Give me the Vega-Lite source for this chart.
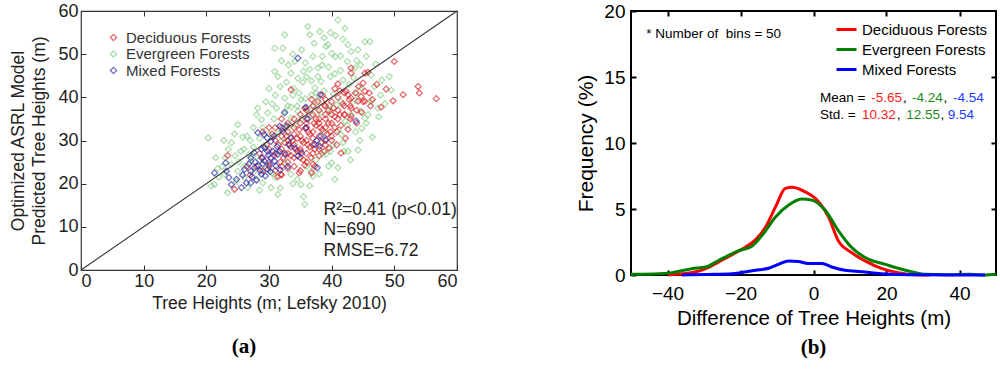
{
  "$schema": "https://vega.github.io/schema/vega-lite/v6.json",
  "padding": {"left": 9, "top": 1, "right": 1, "bottom": 4},
  "bounds": "flush",
  "spacing": 174,
  "background": "white",
  "config": {
    "font": "Liberation Sans",
    "axis": {"grid": false, "domain": false, "labelFont": "Liberation Sans", "titleFont": "Liberation Sans", "titleFontWeight": "normal"},
    "legend": {"labelFont": "Liberation Sans"}
  },
  "resolve": {"scale": {"color": "independent", "stroke": "independent"}, "legend": {"color": "independent", "stroke": "independent"}},
  "datasets": {
    "scatter": [
      {"x": 36.2, "y": 56.4, "type": "Evergreen Forests"}, {"x": 36.5, "y": 54.5, "type": "Evergreen Forests"}, {"x": 38.1, "y": 55.2, "type": "Evergreen Forests"}, {"x": 41.0, "y": 57.9, "type": "Evergreen Forests"}, {"x": 42.1, "y": 56.0, "type": "Evergreen Forests"}, {"x": 32.5, "y": 54.5, "type": "Evergreen Forests"}, {"x": 30.9, "y": 51.4, "type": "Evergreen Forests"}, {"x": 32.2, "y": 51.4, "type": "Evergreen Forests"}, {"x": 39.4, "y": 52.2, "type": "Evergreen Forests"}, {"x": 40.0, "y": 50.2, "type": "Evergreen Forests"}, {"x": 40.6, "y": 49.4, "type": "Evergreen Forests"}, {"x": 41.4, "y": 49.6, "type": "Evergreen Forests"}, {"x": 42.6, "y": 52.2, "type": "Evergreen Forests"}, {"x": 43.1, "y": 50.6, "type": "Evergreen Forests"}, {"x": 44.2, "y": 51.0, "type": "Evergreen Forests"}, {"x": 45.3, "y": 52.9, "type": "Evergreen Forests"}, {"x": 46.1, "y": 52.9, "type": "Evergreen Forests"}, {"x": 34.1, "y": 48.3, "type": "Evergreen Forests"}, {"x": 35.8, "y": 48.0, "type": "Evergreen Forests"}, {"x": 37.8, "y": 46.8, "type": "Evergreen Forests"}, {"x": 38.5, "y": 49.5, "type": "Evergreen Forests"}, {"x": 39.1, "y": 51.8, "type": "Evergreen Forests"}, {"x": 43.7, "y": 46.8, "type": "Evergreen Forests"}, {"x": 42.5, "y": 48.3, "type": "Evergreen Forests"}, {"x": 30.9, "y": 46.0, "type": "Evergreen Forests"}, {"x": 31.4, "y": 44.8, "type": "Evergreen Forests"}, {"x": 33.5, "y": 45.6, "type": "Evergreen Forests"}, {"x": 34.6, "y": 44.4, "type": "Evergreen Forests"}, {"x": 36.0, "y": 44.7, "type": "Evergreen Forests"}, {"x": 35.4, "y": 43.5, "type": "Evergreen Forests"}, {"x": 36.8, "y": 43.8, "type": "Evergreen Forests"}, {"x": 37.3, "y": 42.2, "type": "Evergreen Forests"}, {"x": 38.3, "y": 43.7, "type": "Evergreen Forests"}, {"x": 39.8, "y": 44.8, "type": "Evergreen Forests"}, {"x": 41.4, "y": 46.2, "type": "Evergreen Forests"}, {"x": 44.6, "y": 47.5, "type": "Evergreen Forests"}, {"x": 46.3, "y": 45.2, "type": "Evergreen Forests"}, {"x": 49.2, "y": 44.8, "type": "Evergreen Forests"}, {"x": 44.7, "y": 42.2, "type": "Evergreen Forests"}, {"x": 49.5, "y": 41.7, "type": "Evergreen Forests"}, {"x": 32.5, "y": 39.8, "type": "Evergreen Forests"}, {"x": 33.8, "y": 40.5, "type": "Evergreen Forests"}, {"x": 35.1, "y": 39.5, "type": "Evergreen Forests"}, {"x": 35.8, "y": 39.7, "type": "Evergreen Forests"}, {"x": 36.8, "y": 40.6, "type": "Evergreen Forests"}, {"x": 37.5, "y": 41.0, "type": "Evergreen Forests"}, {"x": 38.8, "y": 41.5, "type": "Evergreen Forests"}, {"x": 40.3, "y": 40.8, "type": "Evergreen Forests"}, {"x": 46.3, "y": 39.1, "type": "Evergreen Forests"}, {"x": 47.4, "y": 37.5, "type": "Evergreen Forests"}, {"x": 45.3, "y": 35.2, "type": "Evergreen Forests"}, {"x": 45.8, "y": 36.0, "type": "Evergreen Forests"}, {"x": 43.1, "y": 36.0, "type": "Evergreen Forests"}, {"x": 48.5, "y": 38.5, "type": "Evergreen Forests"},
      {"x": 25.0, "y": 33.7, "type": "Evergreen Forests"}, {"x": 25.8, "y": 30.8, "type": "Evergreen Forests"}, {"x": 28.2, "y": 37.5, "type": "Evergreen Forests"}, {"x": 28.8, "y": 34.8, "type": "Evergreen Forests"}, {"x": 29.8, "y": 36.4, "type": "Evergreen Forests"}, {"x": 30.5, "y": 38.5, "type": "Evergreen Forests"}, {"x": 31.2, "y": 37.5, "type": "Evergreen Forests"}, {"x": 32.5, "y": 36.8, "type": "Evergreen Forests"}, {"x": 33.5, "y": 35.2, "type": "Evergreen Forests"}, {"x": 32.5, "y": 32.9, "type": "Evergreen Forests"}, {"x": 31.9, "y": 29.8, "type": "Evergreen Forests"}, {"x": 34.6, "y": 36.8, "type": "Evergreen Forests"}, {"x": 36.0, "y": 37.5, "type": "Evergreen Forests"}, {"x": 37.1, "y": 38.0, "type": "Evergreen Forests"}, {"x": 39.9, "y": 36.8, "type": "Evergreen Forests"}, {"x": 41.0, "y": 32.3, "type": "Evergreen Forests"}, {"x": 41.5, "y": 31.4, "type": "Evergreen Forests"}, {"x": 42.5, "y": 33.5, "type": "Evergreen Forests"}, {"x": 43.8, "y": 32.0, "type": "Evergreen Forests"}, {"x": 44.5, "y": 30.0, "type": "Evergreen Forests"}, {"x": 45.5, "y": 34.0, "type": "Evergreen Forests"}, {"x": 26.5, "y": 31.0, "type": "Evergreen Forests"}, {"x": 27.5, "y": 28.5, "type": "Evergreen Forests"}, {"x": 28.5, "y": 30.5, "type": "Evergreen Forests"}, {"x": 30.0, "y": 31.5, "type": "Evergreen Forests"}, {"x": 27.0, "y": 30.0, "type": "Evergreen Forests"}, {"x": 24.0, "y": 29.5, "type": "Evergreen Forests"}, {"x": 23.5, "y": 28.0, "type": "Evergreen Forests"}, {"x": 33.0, "y": 31.0, "type": "Evergreen Forests"}, {"x": 34.2, "y": 33.5, "type": "Evergreen Forests"}, {"x": 38.8, "y": 32.0, "type": "Evergreen Forests"}, {"x": 40.2, "y": 29.0, "type": "Evergreen Forests"}, {"x": 41.8, "y": 29.5, "type": "Evergreen Forests"},
      {"x": 20.3, "y": 30.6, "type": "Evergreen Forests"}, {"x": 20.8, "y": 19.5, "type": "Evergreen Forests"}, {"x": 21.3, "y": 19.8, "type": "Evergreen Forests"}, {"x": 22.0, "y": 21.5, "type": "Evergreen Forests"}, {"x": 22.9, "y": 22.2, "type": "Evergreen Forests"}, {"x": 23.4, "y": 17.9, "type": "Evergreen Forests"}, {"x": 24.0, "y": 24.5, "type": "Evergreen Forests"}, {"x": 25.0, "y": 22.9, "type": "Evergreen Forests"}, {"x": 26.1, "y": 21.4, "type": "Evergreen Forests"}, {"x": 26.6, "y": 19.1, "type": "Evergreen Forests"}, {"x": 27.1, "y": 25.2, "type": "Evergreen Forests"}, {"x": 24.6, "y": 26.5, "type": "Evergreen Forests"}, {"x": 25.5, "y": 27.5, "type": "Evergreen Forests"}, {"x": 22.5, "y": 24.0, "type": "Evergreen Forests"}, {"x": 21.8, "y": 23.5, "type": "Evergreen Forests"}, {"x": 23.0, "y": 26.0, "type": "Evergreen Forests"}, {"x": 28.0, "y": 21.0, "type": "Evergreen Forests"}, {"x": 29.0, "y": 20.2, "type": "Evergreen Forests"}, {"x": 30.3, "y": 19.1, "type": "Evergreen Forests"}, {"x": 31.4, "y": 17.5, "type": "Evergreen Forests"}, {"x": 33.5, "y": 22.2, "type": "Evergreen Forests"}, {"x": 34.5, "y": 21.0, "type": "Evergreen Forests"}, {"x": 35.1, "y": 19.8, "type": "Evergreen Forests"}, {"x": 35.7, "y": 15.2, "type": "Evergreen Forests"}, {"x": 36.7, "y": 22.9, "type": "Evergreen Forests"}, {"x": 37.5, "y": 25.5, "type": "Evergreen Forests"}, {"x": 38.5, "y": 26.8, "type": "Evergreen Forests"}, {"x": 39.1, "y": 26.8, "type": "Evergreen Forests"}, {"x": 40.0, "y": 24.8, "type": "Evergreen Forests"}, {"x": 41.0, "y": 23.7, "type": "Evergreen Forests"}, {"x": 42.0, "y": 27.5, "type": "Evergreen Forests"}, {"x": 42.6, "y": 27.5, "type": "Evergreen Forests"}, {"x": 32.5, "y": 24.8, "type": "Evergreen Forests"}, {"x": 31.0, "y": 21.5, "type": "Evergreen Forests"}, {"x": 29.5, "y": 23.5, "type": "Evergreen Forests"}, {"x": 36.0, "y": 24.0, "type": "Evergreen Forests"}, {"x": 37.0, "y": 21.7, "type": "Evergreen Forests"}, {"x": 39.8, "y": 27.5, "type": "Evergreen Forests"}, {"x": 24.8, "y": 20.5, "type": "Evergreen Forests"}, {"x": 26.0, "y": 24.0, "type": "Evergreen Forests"}, {"x": 27.8, "y": 23.0, "type": "Evergreen Forests"}, {"x": 28.5, "y": 25.5, "type": "Evergreen Forests"},
      {"x": 27.5, "y": 33, "type": "Evergreen Forests"}, {"x": 28, "y": 36, "type": "Evergreen Forests"}, {"x": 29.5, "y": 39, "type": "Evergreen Forests"}, {"x": 30, "y": 42, "type": "Evergreen Forests"}, {"x": 31, "y": 40.5, "type": "Evergreen Forests"}, {"x": 31.8, "y": 42.5, "type": "Evergreen Forests"}, {"x": 32.8, "y": 43.5, "type": "Evergreen Forests"}, {"x": 33, "y": 38, "type": "Evergreen Forests"}, {"x": 34, "y": 42, "type": "Evergreen Forests"}, {"x": 34.8, "y": 41, "type": "Evergreen Forests"}, {"x": 35.5, "y": 46, "type": "Evergreen Forests"}, {"x": 36.5, "y": 46.5, "type": "Evergreen Forests"}, {"x": 37.8, "y": 44.8, "type": "Evergreen Forests"}, {"x": 38.5, "y": 47.5, "type": "Evergreen Forests"}, {"x": 39.5, "y": 47, "type": "Evergreen Forests"}, {"x": 40.5, "y": 45.5, "type": "Evergreen Forests"}, {"x": 41.8, "y": 44, "type": "Evergreen Forests"}, {"x": 42.8, "y": 43, "type": "Evergreen Forests"}, {"x": 43.5, "y": 44.5, "type": "Evergreen Forests"}, {"x": 44, "y": 41, "type": "Evergreen Forests"}, {"x": 46.8, "y": 42.5, "type": "Evergreen Forests"}, {"x": 47.8, "y": 40.5, "type": "Evergreen Forests"}, {"x": 40.8, "y": 38.2, "type": "Evergreen Forests"}, {"x": 41.5, "y": 39, "type": "Evergreen Forests"}, {"x": 37.8, "y": 39.5, "type": "Evergreen Forests"}, {"x": 34.5, "y": 38, "type": "Evergreen Forests"}, {"x": 33.5, "y": 37.8, "type": "Evergreen Forests"}, {"x": 30.8, "y": 35, "type": "Evergreen Forests"}, {"x": 29, "y": 33, "type": "Evergreen Forests"}, {"x": 26, "y": 28, "type": "Evergreen Forests"}, {"x": 24.5, "y": 31.5, "type": "Evergreen Forests"}, {"x": 22.8, "y": 30, "type": "Evergreen Forests"}, {"x": 21.5, "y": 26, "type": "Evergreen Forests"}, {"x": 26.8, "y": 26.8, "type": "Evergreen Forests"}, {"x": 25.2, "y": 25, "type": "Evergreen Forests"}, {"x": 30.5, "y": 22.5, "type": "Evergreen Forests"}, {"x": 33.8, "y": 20, "type": "Evergreen Forests"}, {"x": 38, "y": 22.2, "type": "Evergreen Forests"}, {"x": 40.5, "y": 21, "type": "Evergreen Forests"}, {"x": 43, "y": 25.5, "type": "Evergreen Forests"}, {"x": 44.2, "y": 27.8, "type": "Evergreen Forests"}, {"x": 46.5, "y": 30.8, "type": "Evergreen Forests"}, {"x": 47.5, "y": 35.5, "type": "Evergreen Forests"}, {"x": 44.8, "y": 32.8, "type": "Evergreen Forests"}, {"x": 39.5, "y": 24, "type": "Evergreen Forests"}, {"x": 36.5, "y": 19.5, "type": "Evergreen Forests"}, {"x": 31.8, "y": 19, "type": "Evergreen Forests"}, {"x": 28.5, "y": 18.5, "type": "Evergreen Forests"}, {"x": 35.5, "y": 17, "type": "Evergreen Forests"}, {"x": 27.5, "y": 26.5, "type": "Evergreen Forests"}, {"x": 29.2, "y": 28.8, "type": "Evergreen Forests"}, {"x": 31.5, "y": 31.8, "type": "Evergreen Forests"}, {"x": 33.3, "y": 33.5, "type": "Evergreen Forests"}, {"x": 35.2, "y": 35, "type": "Evergreen Forests"}, {"x": 36.8, "y": 35.8, "type": "Evergreen Forests"}, {"x": 38.2, "y": 36.5, "type": "Evergreen Forests"}, {"x": 39.6, "y": 38, "type": "Evergreen Forests"}, {"x": 42.2, "y": 34.5, "type": "Evergreen Forests"}, {"x": 43.8, "y": 39.3, "type": "Evergreen Forests"}, {"x": 44.6, "y": 36.8, "type": "Evergreen Forests"}, {"x": 37, "y": 49.5, "type": "Evergreen Forests"}, {"x": 39.8, "y": 55, "type": "Evergreen Forests"}, {"x": 35.2, "y": 51, "type": "Evergreen Forests"}, {"x": 33.8, "y": 50, "type": "Evergreen Forests"}, {"x": 38.8, "y": 53.8, "type": "Evergreen Forests"}, {"x": 41.8, "y": 53.5, "type": "Evergreen Forests"}, {"x": 40.6, "y": 54.3, "type": "Evergreen Forests"}, {"x": 44, "y": 48.5, "type": "Evergreen Forests"}, {"x": 45.5, "y": 49.5, "type": "Evergreen Forests"}, {"x": 47, "y": 47.7, "type": "Evergreen Forests"}, {"x": 48, "y": 44, "type": "Evergreen Forests"}, {"x": 37.2, "y": 52.5, "type": "Evergreen Forests"}, {"x": 33.1, "y": 47.5, "type": "Evergreen Forests"}, {"x": 32, "y": 48.5, "type": "Evergreen Forests"},
      {"x": 50.0, "y": 48.3, "type": "Deciduous Forests"}, {"x": 53.8, "y": 42.5, "type": "Deciduous Forests"}, {"x": 54.0, "y": 41.0, "type": "Deciduous Forests"}, {"x": 56.7, "y": 39.7, "type": "Deciduous Forests"}, {"x": 51.4, "y": 40.6, "type": "Deciduous Forests"}, {"x": 49.8, "y": 39.2, "type": "Deciduous Forests"}, {"x": 48.7, "y": 41.9, "type": "Deciduous Forests"}, {"x": 47.9, "y": 37.7, "type": "Deciduous Forests"}, {"x": 45.3, "y": 45.6, "type": "Deciduous Forests"}, {"x": 45.8, "y": 45.8, "type": "Deciduous Forests"}, {"x": 43.1, "y": 46.8, "type": "Deciduous Forests"}, {"x": 43.1, "y": 45.6, "type": "Deciduous Forests"}, {"x": 41.0, "y": 43.1, "type": "Deciduous Forests"}, {"x": 40.5, "y": 42.0, "type": "Deciduous Forests"}, {"x": 42.3, "y": 41.4, "type": "Deciduous Forests"}, {"x": 42.6, "y": 40.6, "type": "Deciduous Forests"}, {"x": 45.0, "y": 43.3, "type": "Deciduous Forests"}, {"x": 45.3, "y": 41.4, "type": "Deciduous Forests"}, {"x": 44.7, "y": 40.2, "type": "Deciduous Forests"}, {"x": 45.3, "y": 39.1, "type": "Deciduous Forests"}, {"x": 44.2, "y": 39.1, "type": "Deciduous Forests"}, {"x": 43.1, "y": 39.8, "type": "Deciduous Forests"}, {"x": 43.1, "y": 37.5, "type": "Deciduous Forests"}, {"x": 42.1, "y": 36.0, "type": "Deciduous Forests"}, {"x": 43.1, "y": 35.6, "type": "Deciduous Forests"}, {"x": 42.6, "y": 32.6, "type": "Deciduous Forests"}, {"x": 41.5, "y": 27.1, "type": "Deciduous Forests"}, {"x": 33.5, "y": 41.8, "type": "Deciduous Forests"}, {"x": 23.4, "y": 26.5, "type": "Deciduous Forests"}, {"x": 24.5, "y": 18.7, "type": "Deciduous Forests"}, {"x": 37.3, "y": 24.0, "type": "Deciduous Forests"}, {"x": 35.7, "y": 24.3, "type": "Deciduous Forests"}, {"x": 31.4, "y": 21.6, "type": "Deciduous Forests"}, {"x": 31.9, "y": 22.2, "type": "Deciduous Forests"},
      {"x": 32, "y": 28, "type": "Deciduous Forests"}, {"x": 33, "y": 30, "type": "Deciduous Forests"}, {"x": 34, "y": 29, "type": "Deciduous Forests"}, {"x": 35, "y": 31, "type": "Deciduous Forests"}, {"x": 35, "y": 28, "type": "Deciduous Forests"}, {"x": 36, "y": 30, "type": "Deciduous Forests"}, {"x": 36, "y": 33, "type": "Deciduous Forests"}, {"x": 37, "y": 32, "type": "Deciduous Forests"}, {"x": 37, "y": 29, "type": "Deciduous Forests"}, {"x": 38, "y": 34, "type": "Deciduous Forests"}, {"x": 38, "y": 31, "type": "Deciduous Forests"}, {"x": 39, "y": 35, "type": "Deciduous Forests"}, {"x": 39, "y": 33, "type": "Deciduous Forests"}, {"x": 40, "y": 36, "type": "Deciduous Forests"}, {"x": 40, "y": 34, "type": "Deciduous Forests"}, {"x": 40, "y": 31, "type": "Deciduous Forests"}, {"x": 41, "y": 37, "type": "Deciduous Forests"}, {"x": 41, "y": 35, "type": "Deciduous Forests"}, {"x": 42, "y": 38, "type": "Deciduous Forests"}, {"x": 42, "y": 36, "type": "Deciduous Forests"}, {"x": 33, "y": 27, "type": "Deciduous Forests"}, {"x": 34, "y": 26, "type": "Deciduous Forests"}, {"x": 35, "y": 26, "type": "Deciduous Forests"}, {"x": 36, "y": 27, "type": "Deciduous Forests"}, {"x": 37, "y": 27, "type": "Deciduous Forests"}, {"x": 38, "y": 28, "type": "Deciduous Forests"}, {"x": 39, "y": 30, "type": "Deciduous Forests"}, {"x": 36, "y": 35, "type": "Deciduous Forests"}, {"x": 37, "y": 36, "type": "Deciduous Forests"}, {"x": 38, "y": 37, "type": "Deciduous Forests"}, {"x": 39, "y": 38, "type": "Deciduous Forests"}, {"x": 40, "y": 39, "type": "Deciduous Forests"}, {"x": 41, "y": 40, "type": "Deciduous Forests"}, {"x": 42, "y": 41, "type": "Deciduous Forests"}, {"x": 34, "y": 33, "type": "Deciduous Forests"}, {"x": 35, "y": 34, "type": "Deciduous Forests"}, {"x": 33, "y": 32, "type": "Deciduous Forests"}, {"x": 32, "y": 31, "type": "Deciduous Forests"}, {"x": 31, "y": 30, "type": "Deciduous Forests"}, {"x": 31, "y": 27, "type": "Deciduous Forests"}, {"x": 30, "y": 28, "type": "Deciduous Forests"}, {"x": 30, "y": 25, "type": "Deciduous Forests"}, {"x": 31, "y": 23, "type": "Deciduous Forests"}, {"x": 32, "y": 24, "type": "Deciduous Forests"}, {"x": 33, "y": 25, "type": "Deciduous Forests"}, {"x": 34, "y": 24, "type": "Deciduous Forests"}, {"x": 29, "y": 26, "type": "Deciduous Forests"}, {"x": 29, "y": 32, "type": "Deciduous Forests"}, {"x": 30, "y": 33, "type": "Deciduous Forests"}, {"x": 31, "y": 33, "type": "Deciduous Forests"}, {"x": 32, "y": 33, "type": "Deciduous Forests"}, {"x": 35, "y": 36, "type": "Deciduous Forests"}, {"x": 36, "y": 37, "type": "Deciduous Forests"}, {"x": 37, "y": 38, "type": "Deciduous Forests"}, {"x": 38, "y": 35, "type": "Deciduous Forests"}, {"x": 39, "y": 36, "type": "Deciduous Forests"}, {"x": 43, "y": 38, "type": "Deciduous Forests"}, {"x": 43, "y": 35, "type": "Deciduous Forests"}, {"x": 44, "y": 37, "type": "Deciduous Forests"}, {"x": 44, "y": 34, "type": "Deciduous Forests"}, {"x": 45, "y": 39, "type": "Deciduous Forests"}, {"x": 46, "y": 41, "type": "Deciduous Forests"}, {"x": 35, "y": 27.5, "type": "Deciduous Forests"}, {"x": 34.5, "y": 30.5, "type": "Deciduous Forests"}, {"x": 36.5, "y": 31.5, "type": "Deciduous Forests"}, {"x": 37.5, "y": 33.5, "type": "Deciduous Forests"}, {"x": 38.5, "y": 32.5, "type": "Deciduous Forests"}, {"x": 35.5, "y": 29.5, "type": "Deciduous Forests"}, {"x": 36.5, "y": 28.5, "type": "Deciduous Forests"}, {"x": 33.5, "y": 28.5, "type": "Deciduous Forests"}, {"x": 32.5, "y": 29.5, "type": "Deciduous Forests"}, {"x": 34, "y": 31.5, "type": "Deciduous Forests"}, {"x": 37, "y": 30.5, "type": "Deciduous Forests"}, {"x": 39.5, "y": 34, "type": "Deciduous Forests"}, {"x": 40.5, "y": 33, "type": "Deciduous Forests"}, {"x": 41.5, "y": 33.5, "type": "Deciduous Forests"}, {"x": 38, "y": 26.5, "type": "Deciduous Forests"}, {"x": 36, "y": 25, "type": "Deciduous Forests"}, {"x": 37, "y": 24.5, "type": "Deciduous Forests"}, {"x": 40, "y": 30, "type": "Deciduous Forests"}, {"x": 39, "y": 29, "type": "Deciduous Forests"}, {"x": 35, "y": 23, "type": "Deciduous Forests"}, {"x": 32, "y": 22, "type": "Deciduous Forests"}, {"x": 33, "y": 23.5, "type": "Deciduous Forests"}, {"x": 28, "y": 24, "type": "Deciduous Forests"}, {"x": 27, "y": 22, "type": "Deciduous Forests"}, {"x": 29, "y": 23, "type": "Deciduous Forests"}, {"x": 30, "y": 24, "type": "Deciduous Forests"}, {"x": 26.5, "y": 24, "type": "Deciduous Forests"}, {"x": 38.5, "y": 40.5, "type": "Deciduous Forests"}, {"x": 39, "y": 39.5, "type": "Deciduous Forests"}, {"x": 40.5, "y": 35.5, "type": "Deciduous Forests"}, {"x": 37.5, "y": 35, "type": "Deciduous Forests"}, {"x": 36, "y": 34, "type": "Deciduous Forests"}, {"x": 34, "y": 35, "type": "Deciduous Forests"}, {"x": 33, "y": 34, "type": "Deciduous Forests"}, {"x": 32, "y": 35, "type": "Deciduous Forests"},
      {"x": 31.5, "y": 29, "type": "Deciduous Forests"}, {"x": 32.5, "y": 27, "type": "Deciduous Forests"}, {"x": 33.5, "y": 26.5, "type": "Deciduous Forests"}, {"x": 34.5, "y": 27.5, "type": "Deciduous Forests"}, {"x": 35.5, "y": 25.5, "type": "Deciduous Forests"}, {"x": 36.2, "y": 29, "type": "Deciduous Forests"}, {"x": 37.3, "y": 28, "type": "Deciduous Forests"}, {"x": 38.3, "y": 29.5, "type": "Deciduous Forests"}, {"x": 38.8, "y": 27.5, "type": "Deciduous Forests"}, {"x": 39.8, "y": 32, "type": "Deciduous Forests"}, {"x": 40.8, "y": 32, "type": "Deciduous Forests"}, {"x": 41.3, "y": 36, "type": "Deciduous Forests"}, {"x": 40.3, "y": 37.5, "type": "Deciduous Forests"}, {"x": 39.5, "y": 37, "type": "Deciduous Forests"}, {"x": 38.8, "y": 38.2, "type": "Deciduous Forests"}, {"x": 37.8, "y": 39, "type": "Deciduous Forests"}, {"x": 36.8, "y": 39.5, "type": "Deciduous Forests"}, {"x": 35.7, "y": 37.5, "type": "Deciduous Forests"}, {"x": 34.8, "y": 32.5, "type": "Deciduous Forests"}, {"x": 33.8, "y": 30, "type": "Deciduous Forests"}, {"x": 32.8, "y": 31, "type": "Deciduous Forests"}, {"x": 32.3, "y": 26, "type": "Deciduous Forests"}, {"x": 34.3, "y": 28, "type": "Deciduous Forests"}, {"x": 35.3, "y": 30, "type": "Deciduous Forests"}, {"x": 36.3, "y": 32, "type": "Deciduous Forests"}, {"x": 37.2, "y": 34, "type": "Deciduous Forests"}, {"x": 38.2, "y": 33, "type": "Deciduous Forests"}, {"x": 39.3, "y": 31.5, "type": "Deciduous Forests"}, {"x": 41.8, "y": 38.5, "type": "Deciduous Forests"}, {"x": 42.8, "y": 39.5, "type": "Deciduous Forests"}, {"x": 43.8, "y": 41, "type": "Deciduous Forests"}, {"x": 44.3, "y": 42.5, "type": "Deciduous Forests"}, {"x": 46.5, "y": 39.5, "type": "Deciduous Forests"}, {"x": 47.2, "y": 43, "type": "Deciduous Forests"}, {"x": 41.3, "y": 41.5, "type": "Deciduous Forests"}, {"x": 30.5, "y": 31.5, "type": "Deciduous Forests"}, {"x": 30.8, "y": 26.5, "type": "Deciduous Forests"}, {"x": 31.8, "y": 25, "type": "Deciduous Forests"}, {"x": 29.6, "y": 29, "type": "Deciduous Forests"}, {"x": 28.5, "y": 27, "type": "Deciduous Forests"}, {"x": 34.8, "y": 22.5, "type": "Deciduous Forests"}, {"x": 36.8, "y": 22.5, "type": "Deciduous Forests"}, {"x": 39.6, "y": 28.2, "type": "Deciduous Forests"}, {"x": 40.8, "y": 29, "type": "Deciduous Forests"}, {"x": 42.2, "y": 30.5, "type": "Deciduous Forests"}, {"x": 44.8, "y": 36.5, "type": "Deciduous Forests"}, {"x": 46.2, "y": 38, "type": "Deciduous Forests"}, {"x": 35.8, "y": 32.8, "type": "Deciduous Forests"}, {"x": 36.7, "y": 26, "type": "Deciduous Forests"}, {"x": 33.2, "y": 29.2, "type": "Deciduous Forests"},
      {"x": 21.3, "y": 22.5, "type": "Mixed Forests"}, {"x": 23.1, "y": 24.8, "type": "Mixed Forests"}, {"x": 23.2, "y": 22.9, "type": "Mixed Forests"}, {"x": 23.6, "y": 21.4, "type": "Mixed Forests"}, {"x": 24.0, "y": 19.8, "type": "Mixed Forests"}, {"x": 25.6, "y": 19.1, "type": "Mixed Forests"}, {"x": 27.1, "y": 20.2, "type": "Mixed Forests"}, {"x": 27.1, "y": 22.9, "type": "Mixed Forests"}, {"x": 28.2, "y": 31.8, "type": "Mixed Forests"}, {"x": 28.8, "y": 22.2, "type": "Mixed Forests"}, {"x": 27.7, "y": 23.7, "type": "Mixed Forests"}, {"x": 28.8, "y": 26.0, "type": "Mixed Forests"}, {"x": 29.3, "y": 28.3, "type": "Mixed Forests"}, {"x": 29.8, "y": 27.5, "type": "Mixed Forests"}, {"x": 30.3, "y": 26.0, "type": "Mixed Forests"}, {"x": 30.1, "y": 24.5, "type": "Mixed Forests"}, {"x": 30.9, "y": 25.2, "type": "Mixed Forests"}, {"x": 31.4, "y": 26.8, "type": "Mixed Forests"}, {"x": 29.3, "y": 25.2, "type": "Mixed Forests"}, {"x": 29.8, "y": 23.3, "type": "Mixed Forests"}, {"x": 31.1, "y": 24.1, "type": "Mixed Forests"}, {"x": 31.7, "y": 33.3, "type": "Mixed Forests"}, {"x": 32.5, "y": 36.4, "type": "Mixed Forests"}, {"x": 34.6, "y": 49.1, "type": "Mixed Forests"}, {"x": 35.9, "y": 37.7, "type": "Mixed Forests"}, {"x": 38.2, "y": 40.6, "type": "Mixed Forests"}, {"x": 37.7, "y": 23.7, "type": "Mixed Forests"}, {"x": 43.9, "y": 34.5, "type": "Mixed Forests"}, {"x": 37.3, "y": 29.1, "type": "Mixed Forests"}, {"x": 38.1, "y": 28.7, "type": "Mixed Forests"}, {"x": 38.3, "y": 31.0, "type": "Mixed Forests"}, {"x": 35.9, "y": 32.9, "type": "Mixed Forests"}, {"x": 34.1, "y": 28.3, "type": "Mixed Forests"}, {"x": 33.5, "y": 30.6, "type": "Mixed Forests"}, {"x": 33.0, "y": 24.0, "type": "Mixed Forests"}, {"x": 32.2, "y": 32.2, "type": "Mixed Forests"}, {"x": 31.7, "y": 27.5, "type": "Mixed Forests"}, {"x": 27.1, "y": 26.0, "type": "Mixed Forests"}, {"x": 26.1, "y": 23.3, "type": "Mixed Forests"}, {"x": 26.4, "y": 20.2, "type": "Mixed Forests"}, {"x": 30.3, "y": 29.8, "type": "Mixed Forests"}, {"x": 29.7, "y": 30.6, "type": "Mixed Forests"}, {"x": 28.8, "y": 28.0, "type": "Mixed Forests"}, {"x": 34.6, "y": 26.4, "type": "Mixed Forests"}, {"x": 35.2, "y": 27.1, "type": "Mixed Forests"},
      {"x": 27.8, "y": 25, "type": "Mixed Forests"}, {"x": 28.3, "y": 24.2, "type": "Mixed Forests"}, {"x": 28.6, "y": 23, "type": "Mixed Forests"}, {"x": 29, "y": 24.6, "type": "Mixed Forests"}, {"x": 29.9, "y": 26.6, "type": "Mixed Forests"}, {"x": 30.6, "y": 27.5, "type": "Mixed Forests"}, {"x": 31.3, "y": 28.6, "type": "Mixed Forests"}, {"x": 30.2, "y": 22.8, "type": "Mixed Forests"}, {"x": 29.4, "y": 21.8, "type": "Mixed Forests"}, {"x": 28, "y": 20.8, "type": "Mixed Forests"}, {"x": 27.3, "y": 21.6, "type": "Mixed Forests"}, {"x": 31.8, "y": 23.2, "type": "Mixed Forests"}, {"x": 32.6, "y": 26.8, "type": "Mixed Forests"}, {"x": 33.2, "y": 28.9, "type": "Mixed Forests"}, {"x": 30.8, "y": 31, "type": "Mixed Forests"}, {"x": 27.6, "y": 27.2, "type": "Mixed Forests"}, {"x": 26.8, "y": 24.6, "type": "Mixed Forests"}, {"x": 25.8, "y": 22, "type": "Mixed Forests"}, {"x": 24.8, "y": 21, "type": "Mixed Forests"}, {"x": 29.2, "y": 31.4, "type": "Mixed Forests"}, {"x": 32.8, "y": 33.4, "type": "Mixed Forests"}, {"x": 36.2, "y": 35, "type": "Mixed Forests"}, {"x": 37.6, "y": 30, "type": "Mixed Forests"}, {"x": 39.1, "y": 30.2, "type": "Mixed Forests"}
    ],
    "curves": [
      {"d": -40, "f": 0, "type": "Deciduous Forests"}, {"d": -37.7, "f": 0.05, "type": "Deciduous Forests"}, {"d": -34, "f": 0.15, "type": "Deciduous Forests"}, {"d": -31.4, "f": 0.3, "type": "Deciduous Forests"}, {"d": -28.6, "f": 0.6, "type": "Deciduous Forests"}, {"d": -24.1, "f": 1.28, "type": "Deciduous Forests"}, {"d": -19.5, "f": 1.97, "type": "Deciduous Forests"}, {"d": -15.9, "f": 2.66, "type": "Deciduous Forests"}, {"d": -13.2, "f": 3.6, "type": "Deciduous Forests"}, {"d": -10.4, "f": 5.16, "type": "Deciduous Forests"}, {"d": -7.7, "f": 6.56, "type": "Deciduous Forests"}, {"d": -5.9, "f": 6.64, "type": "Deciduous Forests"}, {"d": -2.3, "f": 6.3, "type": "Deciduous Forests"}, {"d": 0.5, "f": 5.8, "type": "Deciduous Forests"}, {"d": 4.1, "f": 4.4, "type": "Deciduous Forests"}, {"d": 6.8, "f": 2.6, "type": "Deciduous Forests"}, {"d": 10.4, "f": 1.7, "type": "Deciduous Forests"}, {"d": 14.1, "f": 1.07, "type": "Deciduous Forests"}, {"d": 18.6, "f": 0.5, "type": "Deciduous Forests"}, {"d": 23.2, "f": 0.18, "type": "Deciduous Forests"}, {"d": 27.7, "f": 0.02, "type": "Deciduous Forests"}, {"d": 32, "f": 0, "type": "Deciduous Forests"},
      {"d": -50, "f": 0.05, "type": "Evergreen Forests"}, {"d": -44, "f": 0.08, "type": "Evergreen Forests"}, {"d": -38.7, "f": 0.18, "type": "Evergreen Forests"}, {"d": -33.3, "f": 0.48, "type": "Evergreen Forests"}, {"d": -29.5, "f": 0.6, "type": "Evergreen Forests"}, {"d": -25.9, "f": 1.12, "type": "Evergreen Forests"}, {"d": -20.5, "f": 1.84, "type": "Evergreen Forests"}, {"d": -16.8, "f": 2.2, "type": "Evergreen Forests"}, {"d": -14.1, "f": 3.0, "type": "Evergreen Forests"}, {"d": -10.4, "f": 4.4, "type": "Evergreen Forests"}, {"d": -6.8, "f": 5.3, "type": "Evergreen Forests"}, {"d": -3.2, "f": 5.75, "type": "Evergreen Forests"}, {"d": -0.45, "f": 5.67, "type": "Evergreen Forests"}, {"d": 3.2, "f": 4.9, "type": "Evergreen Forests"}, {"d": 6.8, "f": 3.37, "type": "Evergreen Forests"}, {"d": 10.4, "f": 2.1, "type": "Evergreen Forests"}, {"d": 15, "f": 1.2, "type": "Evergreen Forests"}, {"d": 19.5, "f": 0.82, "type": "Evergreen Forests"}, {"d": 23.2, "f": 0.51, "type": "Evergreen Forests"}, {"d": 26.8, "f": 0.25, "type": "Evergreen Forests"}, {"d": 30.5, "f": 0.05, "type": "Evergreen Forests"}, {"d": 36, "f": 0.02, "type": "Evergreen Forests"}, {"d": 43, "f": 0.05, "type": "Evergreen Forests"}, {"d": 47, "f": 0.0, "type": "Evergreen Forests"}, {"d": 50, "f": 0.05, "type": "Evergreen Forests"},
      {"d": -36, "f": 0, "type": "Mixed Forests"}, {"d": -29, "f": 0.04, "type": "Mixed Forests"}, {"d": -22.3, "f": 0.1, "type": "Mixed Forests"}, {"d": -15.9, "f": 0.36, "type": "Mixed Forests"}, {"d": -12.3, "f": 0.51, "type": "Mixed Forests"}, {"d": -9.5, "f": 0.82, "type": "Mixed Forests"}, {"d": -6.8, "f": 1.07, "type": "Mixed Forests"}, {"d": -4.1, "f": 1.02, "type": "Mixed Forests"}, {"d": -1.4, "f": 0.87, "type": "Mixed Forests"}, {"d": 2.3, "f": 0.87, "type": "Mixed Forests"}, {"d": 5.0, "f": 0.61, "type": "Mixed Forests"}, {"d": 8.6, "f": 0.36, "type": "Mixed Forests"}, {"d": 13.2, "f": 0.25, "type": "Mixed Forests"}, {"d": 18.6, "f": 0.1, "type": "Mixed Forests"}, {"d": 23.2, "f": 0.03, "type": "Mixed Forests"}, {"d": 30, "f": 0.01, "type": "Mixed Forests"}, {"d": 47, "f": 0, "type": "Mixed Forests"}
    ]
  },
  "hconcat": [
    {
      "width": 376,
      "height": 259,
      "view": {"stroke": "#333333", "strokeWidth": 1.2},
      "title": {"text": "(a)", "orient": "bottom", "anchor": "middle", "font": "Liberation Serif", "fontWeight": "bold", "fontSize": 21, "color": "black", "dx": -25, "offset": 24},
      "layer": [
        {
          "data": {"name": "scatter"},
          "mark": {"type": "point", "shape": "diamond", "filled": false, "size": 36, "strokeWidth": 1.2},
          "encoding": {
            "x": {"field": "x", "type": "quantitative", "scale": {"domain": [0, 60], "nice": false, "zero": false},
              "axis": {"orient": "bottom", "values": [0, 10, 20, 30, 40, 50, 60], "tickSize": -5, "tickColor": "#333333", "labelPadding": 7, "labelFontSize": 18, "labelColor": "#222222", "title": "Tree Heights (m; Lefsky 2010)", "titleFontSize": 17.5, "titleColor": "#222222", "titlePadding": 4}},
            "y": {"field": "y", "type": "quantitative", "scale": {"domain": [0, 60], "nice": false, "zero": false},
              "axis": {"orient": "left", "values": [0, 10, 20, 30, 40, 50, 60], "tickSize": -5, "tickColor": "#333333", "labelPadding": 8, "labelFontSize": 18, "labelColor": "#222222", "title": ["Optimized ASRL Model", "Predicted Tree Heights (m)"], "titleFontSize": 17.5, "titleLineHeight": 21, "titleColor": "#222222", "titlePadding": 9}},
            "color": {"field": "type", "type": "nominal",
              "scale": {"domain": ["Deciduous Forests", "Evergreen Forests", "Mixed Forests"], "range": ["#d8262a", "#86cf86", "#2a2aa8"]},
              "legend": {"orient": "none", "legendX": 25, "legendY": 19, "title": null, "labelFontSize": 15, "labelColor": "#333333", "symbolType": "diamond", "symbolSize": 40, "symbolStrokeWidth": 1.2, "symbolFillColor": "transparent", "rowPadding": 0.5, "labelOffset": 5}}
          }
        },
        {
          "data": {"values": [{"x": 0, "y": 0}, {"x": 60, "y": 60}]},
          "mark": {"type": "line", "color": "#333333", "strokeWidth": 1.1},
          "encoding": {
            "x": {"field": "x", "type": "quantitative", "axis": {"orient": "top", "values": [10, 20, 30, 40, 50], "labels": false, "title": null, "tickSize": -5, "tickColor": "#333333"}},
            "y": {"field": "y", "type": "quantitative", "axis": {"orient": "right", "values": [10, 20, 30, 40, 50], "labels": false, "title": null, "tickSize": -5, "tickColor": "#333333"}}
          }
        },
        {
          "data": {"values": [{"x": 38.7, "y": 13.9, "label": "R²=0.41 (p<0.01)"}, {"x": 38.7, "y": 9.3, "label": "N=690"}, {"x": 38.7, "y": 4.4, "label": "RMSE=6.72"}]},
          "mark": {"type": "text", "align": "left", "baseline": "middle", "fontSize": 17.5, "color": "#222222"},
          "encoding": {
            "x": {"field": "x", "type": "quantitative", "axis": null},
            "y": {"field": "y", "type": "quantitative", "axis": null},
            "text": {"field": "label"}
          }
        }
      ],
      "resolve": {"axis": {"x": "independent", "y": "independent"}}
    },
    {
      "width": 365,
      "height": 264,
      "view": {"stroke": "black", "strokeWidth": 2},
      "title": {"text": "(b)", "orient": "bottom", "anchor": "middle", "font": "Liberation Serif", "fontWeight": "bold", "fontSize": 21, "color": "black", "offset": 8},
      "layer": [
        {
          "data": {"name": "curves"},
          "mark": {"type": "line", "strokeWidth": 3, "interpolate": "monotone"},
          "encoding": {
            "x": {"field": "d", "type": "quantitative", "scale": {"domain": [-50, 50], "nice": false, "zero": false},
              "axis": {"orient": "bottom", "values": [-40, -20, 0, 20, 40], "tickSize": -5, "tickWidth": 2, "tickColor": "black", "labelPadding": 14, "labelFontSize": 19, "labelColor": "black", "title": "Difference of Tree Heights (m)", "titleFontSize": 20.5, "titleColor": "black", "titlePadding": 5}},
            "y": {"field": "f", "type": "quantitative", "scale": {"domain": [0, 20], "nice": false, "zero": false},
              "axis": {"orient": "left", "values": [0, 5, 10, 15, 20], "tickSize": -5, "tickWidth": 2, "tickColor": "black", "labelPadding": 11, "labelFontSize": 19, "labelColor": "black", "title": "Frequency (%)", "titleFontSize": 21, "titleColor": "black", "titlePadding": 7}},
            "stroke": {"field": "type", "type": "nominal",
              "scale": {"domain": ["Deciduous Forests", "Evergreen Forests", "Mixed Forests"], "range": ["#ff0000", "#008000", "#0000ff"]},
              "legend": {"orient": "none", "legendX": 204, "legendY": 7, "title": null, "labelFontSize": 15, "labelColor": "black", "symbolType": "stroke", "symbolSize": 400, "symbolStrokeWidth": 3, "rowPadding": -3, "labelOffset": 4}}
          }
        },
        {
          "data": {"values": [{"x": 0, "y": 0}, {"x": 0, "y": 0}]},
          "mark": {"type": "point", "opacity": 0},
          "encoding": {
            "x": {"field": "x", "type": "quantitative", "axis": {"orient": "top", "values": [-40, -20, 0, 20, 40], "labels": false, "title": null, "tickSize": -5, "tickWidth": 2, "tickColor": "black"}},
            "y": {"field": "y", "type": "quantitative", "axis": {"orient": "right", "values": [5, 10, 15], "labels": false, "title": null, "tickSize": -5, "tickWidth": 2, "tickColor": "black"}}
          }
        },
        {
          "data": {"values": [{"x": -45.8, "y": 18.26, "label": "* Number of\u00a0 bins = 50"}, {"x": 1.8, "y": 13.4, "label": "Mean = "}, {"x": 1.8, "y": 12.1, "label": "Std. = "}, {"x": 24.5, "y": 13.4, "label": ","}, {"x": 35.6, "y": 13.4, "label": ","}, {"x": 22.8, "y": 12.1, "label": ","}, {"x": 34.8, "y": 12.1, "label": ","}]},
          "mark": {"type": "text", "align": "left", "baseline": "middle", "fontSize": 13.5, "color": "black"},
          "encoding": {
            "x": {"field": "x", "type": "quantitative", "axis": null},
            "y": {"field": "y", "type": "quantitative", "axis": null},
            "text": {"field": "label"}
          }
        },
        {
          "data": {"values": [{"x": 15.8, "y": 13.4, "label": "-5.65"}, {"x": 13.3, "y": 12.1, "label": "10.32"}]},
          "mark": {"type": "text", "align": "left", "baseline": "middle", "fontSize": 13.5, "color": "#ff1a1a"},
          "encoding": {"x": {"field": "x", "type": "quantitative", "axis": null}, "y": {"field": "y", "type": "quantitative", "axis": null}, "text": {"field": "label"}}
        },
        {
          "data": {"values": [{"x": 27.0, "y": 13.4, "label": "-4.24"}, {"x": 25.4, "y": 12.1, "label": "12.55"}]},
          "mark": {"type": "text", "align": "left", "baseline": "middle", "fontSize": 13.5, "color": "#1a8a1a"},
          "encoding": {"x": {"field": "x", "type": "quantitative", "axis": null}, "y": {"field": "y", "type": "quantitative", "axis": null}, "text": {"field": "label"}}
        },
        {
          "data": {"values": [{"x": 38.2, "y": 13.4, "label": "-4.54"}, {"x": 36.8, "y": 12.1, "label": "9.54"}]},
          "mark": {"type": "text", "align": "left", "baseline": "middle", "fontSize": 13.5, "color": "#1a3cff"},
          "encoding": {"x": {"field": "x", "type": "quantitative", "axis": null}, "y": {"field": "y", "type": "quantitative", "axis": null}, "text": {"field": "label"}}
        }
      ],
      "resolve": {"axis": {"x": "independent", "y": "independent"}}
    }
  ]
}
